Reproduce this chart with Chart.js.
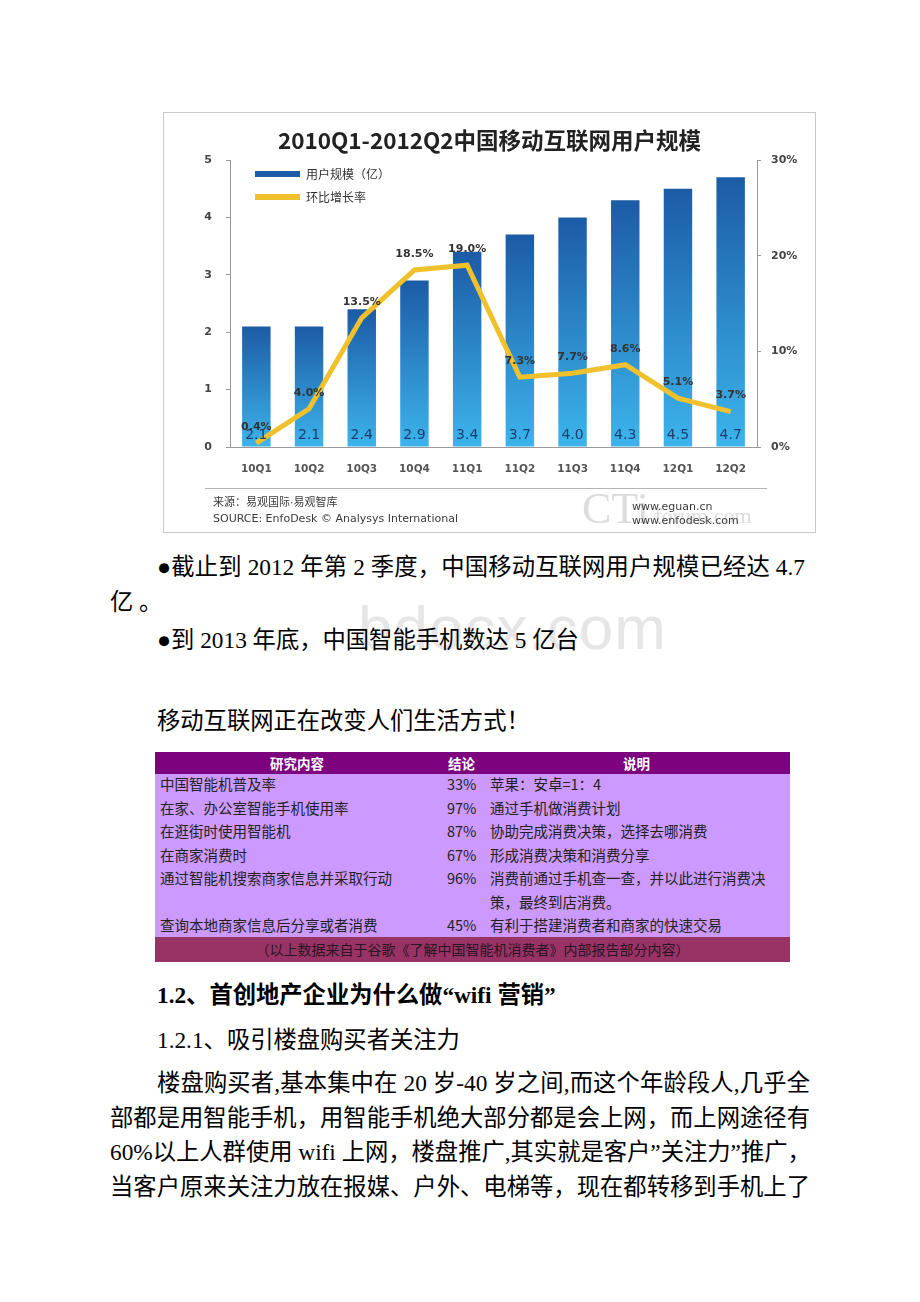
<!DOCTYPE html>
<html>
<head>
<meta charset="utf-8">
<script src="https://cdn.jsdelivr.net/npm/chart.js@4/dist/chart.umd.min.js"></script>
<style>
  html, body { margin: 0; padding: 0; background: #fff; }
  body { width: 920px; height: 1302px; position: relative; overflow: hidden;
         font-family: "Liberation Serif", "Noto Sans CJK SC", serif; font-size: 23.3px; color: #000; }
  .ln { position: absolute; line-height: 34px; height: 34px; white-space: nowrap; }
  .jt { text-align: justify; text-align-last: justify; }
  .chartbox { position: absolute; left: 163px; top: 112px; width: 651px; height: 419px;
              border: 1px solid #c9c9c9; background: #fff; }
  .chartbox canvas { position: absolute; left: 0; top: 0; }
  .src { position: absolute; font-family: "DejaVu Sans", "Noto Sans CJK SC", sans-serif;
         font-size: 11px; color: #3a3a3a; white-space: nowrap; }
  .sep { position: absolute; left: 41px; top: 375px; width: 562px; height: 1px; background: #b5b5b5; }
  .cti { position: absolute; left: 418px; top: 370px; color: #dcdcdc; white-space: nowrap;
         font-family: "Liberation Serif", serif; }
  .mark { position: absolute; left: 358px; top: 592px; font-family: "Liberation Sans", sans-serif;
          font-size: 62px; color: #e6e6e6; white-space: nowrap; letter-spacing: 1px; }
  .tbl { position: absolute; left: 155px; width: 635px; font-family: "Noto Sans CJK SC", sans-serif; }
  .thead { top: 752px; height: 22px; background: #7d027d; color: #fff; font-weight: bold; font-size: 13.5px; }
  .tbody { top: 774px; height: 163px; background: #cc99ff; color: #222; font-size: 14.5px; }
  .tfoot { top: 937px; height: 25px; background: #993366; color: #2a1424; font-size: 14px;
           line-height: 25px; text-align: center; }
  .cell { position: absolute; white-space: nowrap; }
  .thead .cell { line-height: 22px; top: 0; }
  .tbody .cell { line-height: 23.5px; }
</style>
</head>
<body>

<div class="chartbox">
  <canvas id="usersChart" width="651" height="419"></canvas>
  <div class="sep"></div>
  <div class="cti"><span style="font-size:44px">CTi</span><span style="font-size:22px"> forum.com</span></div>
  <div class="src" style="left:49px; top:380px;">来源：易观国际·易观智库</div>
  <div class="src" style="left:49px; top:399px;">SOURCE: EnfoDesk © Analysys International</div>
  <div class="src" style="left:468px; top:387px;">www.eguan.cn</div>
  <div class="src" style="left:468px; top:401px;">www.enfodesk.com</div>
</div>

<div class="ln jt" style="left:157px; top:550px; width:648px;">●截止到 2012 年第 2 季度，中国移动互联网用户规模已经达 4.7</div>
<div class="ln" style="left:110px; top:585px;">亿 。</div>
<div class="mark">bdocx.com</div>
<div class="ln" style="left:157px; top:623px;">●到 2013 年底，中国智能手机数达 5 亿台</div>
<div class="ln" style="left:157px; top:704px;">移动互联网正在改变人们生活方式！</div>

<div class="tbl thead">
  <div class="cell" style="left:115px;">研究内容</div>
  <div class="cell" style="left:293px;">结论</div>
  <div class="cell" style="left:468px;">说明</div>
</div>
<div class="tbl tbody" id="tbody"></div>
<div class="tbl tfoot">（以上数据来自于谷歌《了解中国智能机消费者》内部报告部分内容）</div>

<div class="ln" style="left:157px; top:978px; font-weight:bold;">1.2、首创地产企业为什么做“wifi 营销”</div>
<div class="ln" style="left:157px; top:1023px;">1.2.1、吸引楼盘购买者关注力</div>
<div class="ln jt" style="left:157px; top:1066px; width:653px;">楼盘购买者,基本集中在 20 岁-40 岁之间,而这个年龄段人,几乎全</div>
<div class="ln jt" style="left:110px; top:1101px; width:700px;">部都是用智能手机，用智能手机绝大部分都是会上网，而上网途径有</div>
<div class="ln jt" style="left:110px; top:1135px; width:697px;">60%以上人群使用 wifi 上网，楼盘推广,其实就是客户”关注力”推广，</div>
<div class="ln jt" style="left:110px; top:1170px; width:700px;">当客户原来关注力放在报媒、户外、电梯等，现在都转移到手机上了</div>

<script>
// chart data
const quarters = ['10Q1', '10Q2', '10Q3', '10Q4', '11Q1', '11Q2', '11Q3', '11Q4', '12Q1', '12Q2'];
const users = [2.1, 2.1, 2.4, 2.9, 3.4, 3.7, 4.0, 4.3, 4.5, 4.7];
const growth = [0.4, 4.0, 13.5, 18.5, 19.0, 7.3, 7.7, 8.6, 5.1, 3.7];
const userMax = 5;
const rateMax = 30;

// table rows
const topics = ['中国智能机普及率', '在家、办公室智能手机使用率', '在逛街时使用智能机', '在商家消费时',
    '通过智能机搜索商家信息并采取行动', '', '查询本地商家信息后分享或者消费'];
const results = ['33%', '97%', '87%', '67%', '96%', '', '45%'];
const notes = ['苹果：安卓=1：4', '通过手机做消费计划', '协助完成消费决策，选择去哪消费', '形成消费决策和消费分享',
    '消费前通过手机查一查，并以此进行消费决', '策，最终到店消费。', '有利于搭建消费者和商家的快速交易'];

let tbody = document.getElementById('tbody');
topics.forEach(function (t, i) {
    let top = (i * 23.5 - 2) + 'px';
    tbody.insertAdjacentHTML('beforeend',
        '<div class="cell" style="left:5px;top:' + top + '">' + t + '</div>' +
        '<div class="cell" style="left:292px;top:' + top + '">' + results[i] + '</div>' +
        '<div class="cell" style="left:335px;top:' + top + '">' + notes[i] + '</div>');
});

Chart.defaults.font.family = '"DejaVu Sans", "Noto Sans CJK SC", sans-serif';
Chart.defaults.color = '#444';

function barFill(ctx) {
    let chart = ctx.chart;
    if (ctx.type !== 'data' || !chart.chartArea) return '#2a74bf';
    let top = chart.scales.y.getPixelForValue(users[ctx.dataIndex]);
    let g = chart.ctx.createLinearGradient(0, top, 0, chart.chartArea.bottom);
    g.addColorStop(0, '#1c5ba6');
    g.addColorStop(1, '#3cb4ec');
    return g;
}

// values inside the bars and above the line points
const valueLabels = {
    id: 'valueLabels',
    afterDatasetsDraw(chart) {
        let c = chart.ctx;
        let base = chart.scales.y.getPixelForValue(0);
        c.save();
        c.textAlign = 'center';
        c.textBaseline = 'middle';
        c.font = '14px "DejaVu Sans"';
        c.fillStyle = '#1b3f70';
        chart.getDatasetMeta(0).data.forEach(function (el, i) {
            c.fillText(users[i].toFixed(1), el.x, base - 12);
        });
        c.font = 'bold 11px "DejaVu Sans"';
        c.fillStyle = '#333';
        chart.getDatasetMeta(1).data.forEach(function (el, i) {
            c.fillText(growth[i].toFixed(1) + '%', el.x, el.y - 16);
        });
        c.restore();
    }
};

// move legend into the top-left of the plot
const legendInside = {
    id: 'legendInside',
    afterLayout(chart) {
        chart.legend.left = chart.chartArea.left + 14;
        chart.legend.top = chart.chartArea.top - 3;
    }
};

new Chart('usersChart', {
    type: 'bar',
    data: {
        labels: quarters,
        datasets: [{
            label: '用户规模（亿）',
            data: users,
            backgroundColor: barFill,
            borderWidth: 0,
            barPercentage: 0.54,
            categoryPercentage: 1,
            yAxisID: 'y',
            order: 2
        }, {
            type: 'line',
            label: '环比增长率',
            data: growth,
            borderColor: '#f0c12c',
            backgroundColor: '#f0c12c',
            borderWidth: 5,
            pointRadius: 0,
            tension: 0,
            yAxisID: 'y1',
            order: 1
        }]
    },
    options: {
        responsive: false,
        animation: false,
        layout: { padding: { left: 0, right: 0, top: 0, bottom: 55 } },
        plugins: {
            title: {
                display: true,
                text: '2010Q1-2012Q2中国移动互联网用户规模',
                font: { family: '"Noto Sans CJK SC"', size: 22.5, weight: 'bold' },
                color: '#222',
                padding: { top: 14, bottom: 6 }
            },
            legend: {
                position: 'chartArea',
                align: 'start',
                labels: {
                    boxWidth: 45,
                    boxHeight: 6,
                    padding: 11,
                    color: '#333',
                    font: { family: '"Noto Sans CJK SC"', size: 12 },
                    sort: function (a, b) { return a.datasetIndex - b.datasetIndex; },
                    generateLabels: function (chart) {
                        return Chart.defaults.plugins.legend.labels.generateLabels(chart).map(function (l) {
                            l.lineWidth = 0;
                            return l;
                        });
                    }
                }
            },
            tooltip: { enabled: false }
        },
        scales: {
            x: {
                offset: true,
                grid: { display: false },
                border: { display: true, color: '#9a9a9a', width: 1 },
                ticks: { padding: 8, color: '#555', font: { size: 10.5, weight: 'bold' } },
                afterFit: function (s) { s.height = 30; }
            },
            y: {
                position: 'left',
                min: 0,
                max: userMax,
                ticks: { stepSize: 1, padding: 14, color: '#444', font: { size: 11, weight: 'bold' } },
                grid: { drawOnChartArea: false, tickLength: 4, color: '#9a9a9a' },
                border: { color: '#9a9a9a' },
                afterFit: function (s) { s.width = 66; }
            },
            y1: {
                position: 'right',
                min: 0,
                max: rateMax,
                ticks: { stepSize: 10, padding: 10, color: '#444', font: { size: 11, weight: 'bold' },
                         callback: function (v) { return v + '%'; } },
                grid: { drawOnChartArea: false, tickLength: 4, color: '#9a9a9a' },
                border: { color: '#9a9a9a' },
                afterFit: function (s) { s.width = 58; }
            }
        }
    },
    plugins: [valueLabels, legendInside]
});
</script>
</body>
</html>
